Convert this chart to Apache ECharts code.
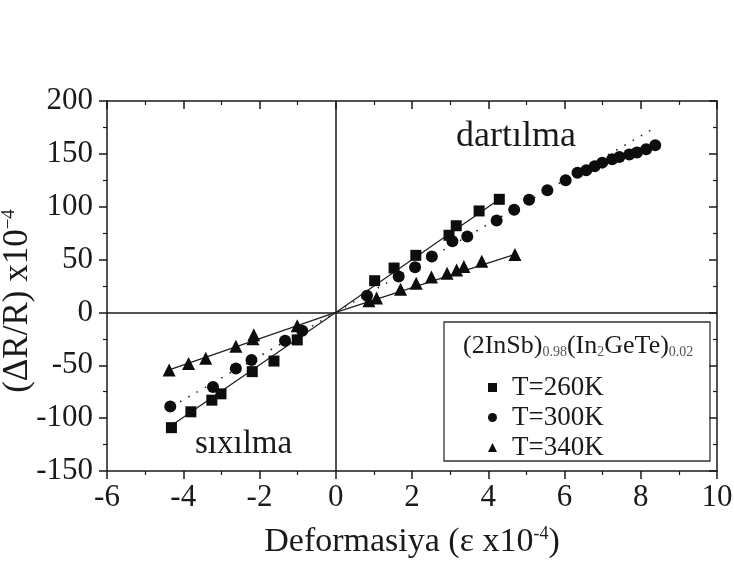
<!DOCTYPE html>
<html>
<head>
<meta charset="utf-8">
<script src="https://cdn.jsdelivr.net/npm/echarts@6/dist/echarts.min.js"></script>
<style>
  html, body { margin: 0; padding: 0; background: #fff; }
  #chart { width: 734px; height: 565px; }
</style>
</head>
<body>
<div id="chart"></div>
<script>
// measured points, strain (x10^-4) vs dR/R (x10^-4)
var x260 = [-4.31, -3.80, -3.25, -3.01, -2.19, -1.62, -1.01, 1.02, 1.53, 2.10, 2.97, 3.16, 3.76, 4.29];
var y260 = [-109, -94, -83, -77, -56, -46, -26, 30, 42, 54, 73, 82, 96, 107];

var x300 = [-4.34, -3.22, -2.62, -2.21, -1.33, -0.88, 0.82, 1.65, 2.08, 2.52, 3.06, 3.45, 4.22, 4.68,
            5.07, 5.55, 6.03, 6.34, 6.57, 6.79, 6.99, 7.25, 7.44, 7.70, 7.90, 8.14, 8.38];
var y300 = [-89, -70.5, -53, -45, -26.8, -17.4, 15.8, 33.9, 42.7, 52.8, 67.4, 71.8, 87, 97.1,
            106.6, 115.5, 125, 132.2, 134.4, 138.2, 141.7, 144.9, 147, 149.3, 151.2, 154.4, 158.2];

var x340 = [-4.37, -3.86, -3.41, -2.62, -2.15, -2.17, -1.01, 0.87, 1.07, 1.70, 2.11, 2.51, 2.92, 3.17, 3.36, 3.83, 4.70];
var y340 = [-54.4, -48.4, -43.3, -32, -21, -25, -12.6, 11, 13.6, 22, 27.5, 33.5, 37, 40.2, 43.4, 48.4, 54.7];

// fitted lines (end points)
var fitX260 = [-4.31, 0, 4.29];
var fitY260 = [-107, 0, 107];
var fitX300 = [-4.3, 0, 8.34];
var fitY300 = [-89, 0, 174];
var fitX340 = [-4.37, 0, 4.7];
var fitY340 = [-54.4, 0, 55];

var seriesNames = ['T=260K', 'T=300K', 'T=340K'];

var FONT = "'Liberation Serif', 'Times New Roman', serif";
var INK = '#1a1a1a';

var pairs = function (xs, ys) {
    var out = [];
    for (var i = 0; i < xs.length; i++) out.push([xs[i], ys[i]]);
    return out;
};

var axisCommon = {
    type: 'value',
    axisLine: { show: true, onZero: false, lineStyle: { color: INK, width: 1.5 } },
    axisTick: { show: true, length: 8, lineStyle: { color: INK, width: 1.5 } },
    minorTick: { show: true, splitNumber: 2, length: 4, lineStyle: { color: INK, width: 1.2 } },
    splitLine: { show: false },
    minorSplitLine: { show: false }
};

var xMain = Object.assign({}, axisCommon, {
    min: -6, max: 10, interval: 2,
    position: 'bottom',
    axisLabel: { color: INK, fontSize: 31, fontFamily: FONT, margin: 11 },
    name: '{a|Deformasiya (ε x10}{s|-4}{a|)}',
    nameLocation: 'middle',
    nameGap: 54,
    nameTextStyle: {
        rich: {
            a: { fontSize: 34, fontFamily: FONT, color: INK },
            s: { fontSize: 18, fontFamily: FONT, color: INK, verticalAlign: 'top' }
        }
    }
});
var xTop = Object.assign({}, axisCommon, {
    min: -6, max: 10, interval: 2,
    position: 'top',
    axisLabel: { show: false },
    axisTick: { show: true, inside: true, length: 8, lineStyle: { color: INK, width: 1.5 } }
});
var yMain = Object.assign({}, axisCommon, {
    min: -150, max: 200, interval: 50,
    position: 'left',
    axisLabel: { color: INK, fontSize: 31, fontFamily: FONT, margin: 14 },
    name: '{a|(ΔR/R) x10}{s|−4}',
    nameLocation: 'middle',
    nameGap: 72,
    nameMoveOverlap: false,
    nameTextStyle: {
        padding: [0, 30, 0, 0],
        rich: {
            a: { fontSize: 35, fontFamily: FONT, color: INK },
            s: { fontSize: 19, fontFamily: FONT, color: INK, verticalAlign: 'top' }
        }
    }
});
var yRight = Object.assign({}, axisCommon, {
    min: -150, max: 200, interval: 50,
    position: 'right',
    axisLabel: { show: false },
    axisTick: { show: true, inside: true, length: 8, lineStyle: { color: INK, width: 1.5 } }
});

var fitLine = function (xs, ys, dashed) {
    return {
        type: 'line',
        data: pairs(xs, ys),
        symbol: 'none',
        silent: true,
        z: 1,
        lineStyle: { color: '#222', width: dashed ? 1.6 : 1.3, type: dashed ? [1.5, 8] : 'solid' }
    };
};

var scatter = function (name, xs, ys, symbol, size) {
    return {
        name: name,
        type: 'scatter',
        data: pairs(xs, ys),
        symbol: symbol,
        symbolSize: size,
        z: 3,
        itemStyle: { color: '#0d0d0d', opacity: 1 }
    };
};

var option = {
    animation: false,
    backgroundColor: '#fff',
    grid: { left: 107, right: 17, top: 101, bottom: 94, outerBoundsMode: 'none' },
    xAxis: [xMain, xTop],
    yAxis: [yMain, yRight],
    legend: {
        data: seriesNames,
        orient: 'vertical',
        left: 483,
        top: 369,
        z: 20,
        itemWidth: 9,
        itemHeight: 9,
        itemGap: 3,
        textStyle: { fontSize: 27, fontFamily: FONT, color: INK, padding: [0, 0, 0, 10] }
    },
    graphic: [
        {
            type: 'rect',
            shape: { x: 444, y: 322, width: 266, height: 139 },
            style: { fill: 'transparent', stroke: '#333', lineWidth: 1.3 },
            z: 1
        },
        {
            type: 'text',
            left: 463,
            top: 333,
            z: 11,
            style: {
                text: '{a|(2InSb)}{s|0.98}{a|(In}{s|2}{a|GeTe)}{s|0.02}',
                rich: {
                    a: { fontSize: 26, fontFamily: FONT, fill: INK },
                    s: { fontSize: 14, fontFamily: FONT, fill: '#555', verticalAlign: 'bottom' }
                }
            }
        },
        {
            type: 'text',
            left: 456,
            top: 119,
            z: 11,
            style: { text: 'dartılma', fontSize: 36, fontFamily: FONT, fill: INK }
        },
        {
            type: 'text',
            left: 195,
            top: 428,
            z: 11,
            style: { text: 'sıxılma', fontSize: 33, fontFamily: FONT, fill: INK }
        }
    ],
    series: [
        {
            type: 'line',
            data: [],
            silent: true,
            markLine: {
                silent: true,
                symbol: ['none', 'none'],
                label: { show: false },
                lineStyle: { color: INK, width: 1.5, type: 'solid' },
                data: [{ xAxis: 0 }, { yAxis: 0 }]
            }
        },
        fitLine(fitX260, fitY260, false),
        fitLine(fitX300, fitY300, true),
        fitLine(fitX340, fitY340, false),
        scatter(seriesNames[0], x260, y260, 'rect', 11),
        scatter(seriesNames[1], x300, y300, 'circle', 12),
        scatter(seriesNames[2], x340, y340, 'triangle', 13)
    ]
};

var chart = echarts.init(document.getElementById('chart'));
chart.setOption(option);
</script>
</body>
</html>
